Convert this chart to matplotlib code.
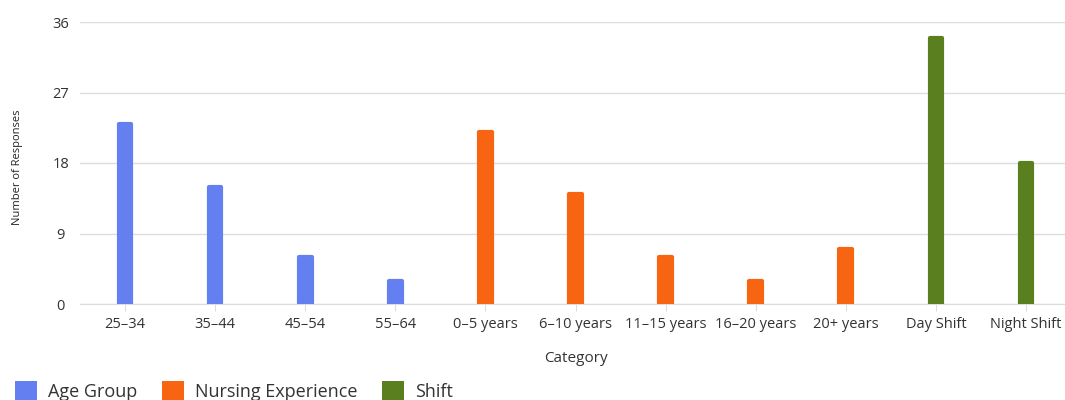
import matplotlib.pyplot as plt
from matplotlib.patches import Patch

categories = ['25–34', '35–44', '45–54', '55–64',
              '0–5 years', '6–10 years', '11–15 years', '16–20 years', '20+ years',
              'Day Shift', 'Night Shift']
responses = [23, 15, 6, 3, 22, 14, 6, 3, 7, 34, 18]
groups = ['Age Group'] * 4 + ['Nursing Experience'] * 5 + ['Shift'] * 2
group_names = ['Age Group', 'Nursing Experience', 'Shift']
yticks = [0, 9, 18, 27, 36]

colors = {'Age Group': '#647ff0', 'Nursing Experience': '#f76512', 'Shift': '#5a7f1e'}

plt.rcParams['font.family'] = ['Open Sans', 'DejaVu Sans']

fig = plt.figure(figsize=(10.65, 4), dpi=100)
# the plot runs past the right edge in the reference, so the axes do too
ax = fig.add_axes([80 / 1065, 1 - 304 / 400, 991 / 1065, 282 / 400])

x = range(len(categories))
bar_colors = [colors[g] for g in groups]
# thick round-joined edge gives the rounded corners
ax.bar(x, responses, width=0.14, color=bar_colors, edgecolor=bar_colors,
       linewidth=3, joinstyle='round', zorder=3)

ax.set_xlim(-0.5, len(categories) - 0.5)
ax.set_ylim(0, 36)
ax.set_yticks(yticks)
ax.set_xticks(list(x))
ax.set_xticklabels(categories)
ax.grid(axis='y', color='#dddddd', linewidth=1, zorder=0)
for s in ['top', 'right', 'left']:
    ax.spines[s].set_visible(False)
ax.spines['bottom'].set_color('#dddddd')
ax.tick_params(axis='y', length=0, pad=14, labelsize=10.5, labelcolor='#333333')
for lbl in ax.get_yticklabels():
    lbl.set_horizontalalignment('center')
ax.tick_params(axis='x', length=5, color='#dddddd', labelsize=10.5,
               labelcolor='#333333', pad=4)

ax.set_xlabel('Category', fontsize=11, color='#333333', labelpad=14)
fig.text(0.016, 1 - 167 / 400, 'Number of Responses', rotation=90,
         va='center', ha='center', fontsize=8, color='#222222')

handles = [Patch(facecolor=colors[g], edgecolor='none', label=g) for g in group_names]
fig.legend(handles=handles, loc='center left', bbox_to_anchor=(15 / 1065, 1 - 391 / 400),
           ncol=3, frameon=False, fontsize=13, handlelength=1.2, handleheight=1.2,
           columnspacing=1.4, handletextpad=0.6, borderpad=0, borderaxespad=0,
           labelcolor='#333333')

fig.savefig('out.png', dpi=100)
